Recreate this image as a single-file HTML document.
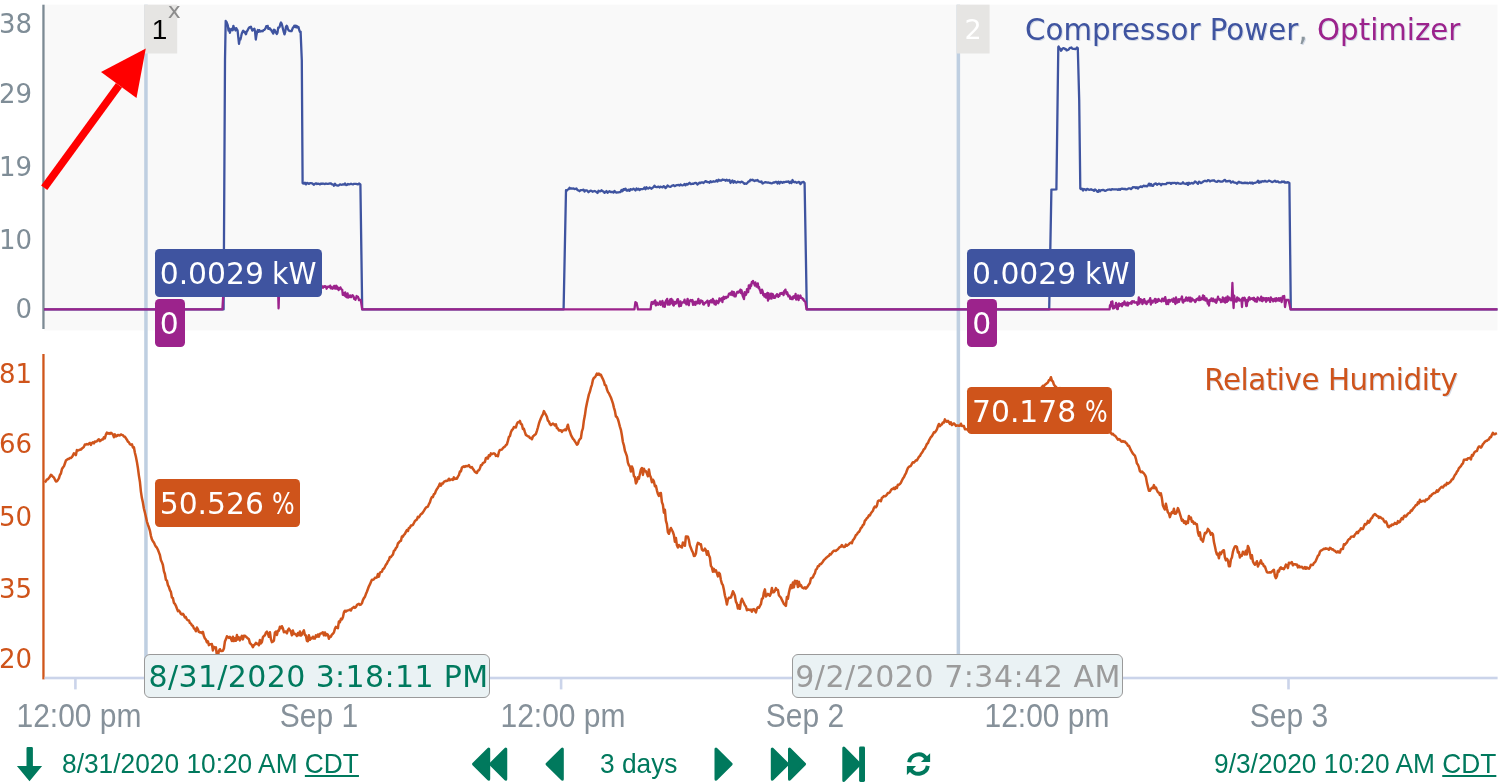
<!DOCTYPE html>
<html lang="en">
<head>
<meta charset="utf-8">
<title>Chart</title>
<style>
html,body{margin:0;padding:0;background:#fff;}
body{width:1505px;height:784px;position:relative;overflow:hidden;font-family:"DejaVu Sans","Liberation Sans",sans-serif;}
.abs{position:absolute;white-space:nowrap;}
svg{position:absolute;left:0;top:0;}
.ylab{position:absolute;left:-20px;width:52px;text-align:right;font-size:26px;line-height:30px;height:30px;white-space:nowrap;}
.yt{color:#7f8d97;}
.yb{color:#cf541b;}
.tip{position:absolute;color:#fff;font-size:29.8px;border-radius:4.5px;height:47.5px;line-height:50.2px;box-sizing:border-box;padding:0 0 0 5.2px;white-space:nowrap;overflow:hidden;}
.sq{display:inline-block;transform-origin:0 50%;}
.ttip{position:absolute;box-sizing:border-box;height:43.5px;line-height:44px;overflow:hidden;border:1px solid #9a9a9a;border-radius:6px;background:#eaf2f4;font-size:30px;white-space:nowrap;padding-left:3.2px;}
.xl{position:absolute;top:699.2px;font-family:"Liberation Sans",sans-serif;font-size:32.4px;line-height:34px;color:#86919a;transform:translateX(-50%) scaleX(.926);white-space:nowrap;}
.leg{position:absolute;font-size:29.3px;line-height:36px;white-space:nowrap;text-shadow:1px 1px 0 #d3d9e6;}
.bt{position:absolute;top:747.5px;font-family:"Liberation Sans",sans-serif;font-size:27.3px;line-height:32px;color:#00795d;white-space:nowrap;transform:scaleX(.964);transform-origin:0 50%;}
.bt u{text-decoration-thickness:1.5px;text-underline-offset:2px;}
</style>
</head>
<body>
<svg width="1505" height="784" viewBox="0 0 1505 784">
  <rect x="44" y="4.7" width="1453.5" height="325.8" fill="#f9f9f9"/>
  <rect x="42.3" y="4.7" width="2.3" height="324.3" fill="#7c8a94"/>
  <rect x="42.3" y="354" width="2.3" height="325.4" fill="#d0561b"/>
  <rect x="44.6" y="676.7" width="1453" height="2.6" fill="#cbd4ea"/>
  <g fill="#cbd4ea">
    <rect x="74.1" y="678" width="2.6" height="11.4"/>
    <rect x="317.2" y="678" width="2.6" height="11.4"/>
    <rect x="559.8" y="678" width="2.6" height="11.4"/>
    <rect x="802.7" y="678" width="2.6" height="11.4"/>
    <rect x="1045.7" y="678" width="2.6" height="11.4"/>
    <rect x="1287.2" y="678" width="2.6" height="11.4"/>
  </g>
  <rect x="144.2" y="4.7" width="3.5" height="655" fill="#bfcfe1"/>
  <rect x="956.6" y="4.7" width="3.5" height="655" fill="#bfcfe1"/>
  <rect x="144.2" y="4.7" width="33" height="48.8" fill="#e6e5e3"/>
  <rect x="956.6" y="4.7" width="33" height="48.8" fill="#e6e5e3"/>
  <path d="M44.0 309.4 L223.6 309.4 L225.0 60.0 L225.7 20.8 L225.7 22.7 L226.4 21.8 L227.1 23.5 L227.8 25.3 L228.5 30.5 L229.2 28.6 L229.9 32.9 L230.6 29.3 L231.3 30.1 L232.0 28.8 L232.7 30.3 L233.4 25.8 L234.1 28.2 L234.8 28.4 L235.5 30.5 L236.2 28.1 L236.9 29.5 L237.6 30.5 L238.3 37.4 L239.0 43.9 L239.7 39.3 L240.4 39.4 L241.1 36.6 L241.8 33.5 L242.5 31.9 L243.2 30.7 L243.9 32.1 L244.6 31.8 L245.3 33.3 L246.0 34.2 L246.7 31.6 L247.4 30.8 L248.1 29.3 L248.8 28.0 L249.5 27.1 L250.2 27.6 L250.9 26.6 L251.6 28.6 L252.3 30.6 L253.0 29.9 L253.7 29.1 L254.4 28.6 L255.1 32.1 L255.8 39.5 L256.5 34.9 L257.2 31.5 L257.9 30.0 L258.6 31.9 L259.3 30.1 L260.0 31.3 L260.7 31.5 L261.4 31.2 L262.1 30.9 L262.8 31.2 L263.5 30.2 L264.2 30.0 L264.9 29.2 L265.6 28.1 L266.3 26.2 L267.0 27.3 L267.7 25.9 L268.4 28.9 L269.1 28.6 L269.8 28.2 L270.5 29.7 L271.2 29.6 L271.9 31.5 L272.6 32.4 L273.3 33.6 L274.0 29.7 L274.7 30.0 L275.4 31.6 L276.1 32.8 L276.8 34.0 L277.5 32.7 L278.2 27.7 L278.9 27.6 L279.6 26.9 L280.3 24.0 L281.0 22.5 L281.7 23.8 L282.4 26.4 L283.1 29.4 L283.8 32.2 L284.5 34.4 L285.2 32.1 L285.9 27.0 L286.6 25.7 L287.3 26.7 L288.0 29.2 L288.7 30.5 L289.4 30.6 L290.1 31.2 L290.8 31.1 L291.5 31.2 L292.2 29.5 L292.9 27.8 L293.6 27.0 L294.3 25.7 L295.0 27.1 L295.7 25.6 L296.4 27.4 L297.1 26.2 L297.8 27.6 L298.5 27.0 L299.2 29.9 L299.9 32.0 L300.6 31.6 L301.8 60.0 L302.6 183.0 L303.0 183.4 L304.0 183.6 L305.0 182.7 L306.0 184.4 L307.0 182.9 L308.0 183.3 L309.0 183.9 L310.0 183.1 L311.0 183.2 L312.0 183.3 L313.0 184.0 L314.0 184.8 L315.0 183.8 L316.0 183.3 L317.0 184.0 L318.0 183.6 L319.0 183.8 L320.0 184.4 L321.0 183.5 L322.0 183.9 L323.0 183.5 L324.0 183.8 L325.0 184.0 L326.0 183.5 L327.0 183.8 L328.0 183.9 L329.0 183.7 L330.0 183.5 L331.0 183.5 L332.0 184.3 L333.0 184.4 L334.0 185.7 L335.0 183.8 L336.0 185.1 L337.0 185.4 L338.0 185.7 L339.0 185.2 L340.0 184.4 L341.0 184.7 L342.0 184.8 L343.0 184.3 L344.0 184.7 L345.0 183.4 L346.0 185.0 L347.0 184.8 L348.0 184.0 L349.0 184.4 L350.0 184.1 L351.0 183.7 L352.0 184.1 L353.0 184.4 L354.0 183.8 L355.0 183.8 L356.0 183.9 L357.0 184.1 L358.0 184.4 L359.0 183.5 L360.4 184.5 L362.2 309.4 L563.6 309.4 L566.0 190.2 L566.5 190.9 L567.5 189.7 L568.5 189.3 L569.5 187.8 L570.5 188.7 L571.5 188.4 L572.5 188.6 L573.5 188.4 L574.5 189.0 L575.5 188.9 L576.5 188.5 L577.5 190.2 L578.5 190.4 L579.5 191.2 L580.5 190.2 L581.5 190.1 L582.5 190.2 L583.5 189.6 L584.5 191.6 L585.5 190.3 L586.5 190.3 L587.5 191.0 L588.5 192.2 L589.5 191.4 L590.5 190.6 L591.5 190.8 L592.5 191.8 L593.5 191.3 L594.5 191.0 L595.5 191.4 L596.5 192.1 L597.5 193.0 L598.5 190.8 L599.5 191.3 L600.5 191.3 L601.5 190.2 L602.5 191.3 L603.5 191.3 L604.5 192.8 L605.5 192.0 L606.5 191.0 L607.5 192.7 L608.5 192.0 L609.5 191.1 L610.5 192.0 L611.5 192.0 L612.5 191.9 L613.5 192.6 L614.5 190.9 L615.5 192.1 L616.5 192.7 L617.5 192.4 L618.5 192.3 L619.5 192.1 L620.5 192.1 L621.5 190.0 L622.5 191.2 L623.5 189.1 L624.5 189.7 L625.5 188.6 L626.5 190.6 L627.5 190.7 L628.5 189.6 L629.5 190.9 L630.5 189.1 L631.5 189.6 L632.5 189.5 L633.5 188.6 L634.5 189.5 L635.5 190.5 L636.5 188.4 L637.5 189.6 L638.5 188.8 L639.5 190.1 L640.5 189.1 L641.5 189.2 L642.5 189.1 L643.5 188.7 L644.5 187.5 L645.5 189.3 L646.5 187.3 L647.5 188.4 L648.5 188.5 L649.5 187.5 L650.5 188.1 L651.5 188.7 L652.5 187.8 L653.5 187.1 L654.5 185.6 L655.5 186.9 L656.5 187.1 L657.5 187.0 L658.5 186.6 L659.5 187.5 L660.5 186.7 L661.5 187.0 L662.5 187.4 L663.5 186.2 L664.5 186.5 L665.5 188.1 L666.5 187.1 L667.5 185.5 L668.5 186.2 L669.5 186.6 L670.5 186.9 L671.5 186.1 L672.5 185.5 L673.5 185.2 L674.5 186.1 L675.5 185.8 L676.5 185.1 L677.5 185.2 L678.5 184.9 L679.5 185.6 L680.5 184.5 L681.5 185.2 L682.5 185.4 L683.5 185.0 L684.5 184.0 L685.5 185.4 L686.5 183.9 L687.5 184.6 L688.5 183.6 L689.5 182.8 L690.5 184.1 L691.5 184.0 L692.5 183.7 L693.5 183.8 L694.5 183.1 L695.5 182.9 L696.5 183.2 L697.5 184.5 L698.5 183.6 L699.5 182.6 L700.5 183.2 L701.5 182.4 L702.5 182.3 L703.5 183.1 L704.5 182.0 L705.5 181.1 L706.5 181.6 L707.5 182.1 L708.5 182.1 L709.5 182.7 L710.5 181.2 L711.5 182.1 L712.5 181.7 L713.5 181.2 L714.5 181.7 L715.5 181.4 L716.5 180.3 L717.5 181.5 L718.5 179.7 L719.5 180.5 L720.5 180.3 L721.5 180.5 L722.5 179.5 L723.5 179.8 L724.5 179.8 L725.5 180.8 L726.5 179.7 L727.5 180.6 L728.5 180.5 L729.5 180.0 L730.5 183.0 L731.5 181.3 L732.5 180.5 L733.5 182.7 L734.5 181.1 L735.5 182.2 L736.5 182.7 L737.5 181.7 L738.5 182.0 L739.5 182.1 L740.5 182.5 L741.5 181.6 L742.5 182.0 L743.5 182.9 L744.5 183.9 L745.5 183.5 L746.5 183.8 L747.5 182.7 L748.5 181.5 L749.5 181.4 L750.5 179.7 L751.5 180.1 L752.5 179.7 L753.5 180.5 L754.5 181.0 L755.5 180.3 L756.5 180.5 L757.5 180.0 L758.5 181.2 L759.5 181.7 L760.5 182.0 L761.5 181.4 L762.5 183.5 L763.5 183.1 L764.5 182.4 L765.5 182.2 L766.5 182.3 L767.5 182.6 L768.5 182.5 L769.5 182.8 L770.5 183.0 L771.5 183.3 L772.5 183.2 L773.5 182.3 L774.5 182.6 L775.5 182.0 L776.5 181.8 L777.5 183.5 L778.5 181.8 L779.5 183.5 L780.5 181.9 L781.5 182.2 L782.5 182.8 L783.5 182.0 L784.5 182.3 L785.5 181.8 L786.5 181.6 L787.5 181.8 L788.5 181.4 L789.5 183.0 L790.5 181.7 L791.5 183.0 L792.5 180.0 L793.5 181.9 L794.5 182.3 L795.5 181.8 L796.5 182.8 L797.5 182.5 L798.5 181.9 L799.5 182.4 L800.5 184.1 L801.5 182.3 L802.5 182.4 L803.5 181.9 L804.6 183.0 L806.8 309.4 L1049.2 309.4 L1051.4 189.6 L1056.4 189.4 L1057.6 100.0 L1058.3 47.0 L1058.6 46.5 L1059.4 48.0 L1060.2 48.8 L1061.0 50.8 L1061.8 49.7 L1062.6 48.5 L1063.4 48.2 L1064.2 48.4 L1065.0 49.0 L1065.8 49.0 L1066.6 50.4 L1067.4 50.2 L1068.2 49.8 L1069.0 49.1 L1069.8 47.9 L1070.6 47.9 L1071.4 47.5 L1072.2 48.7 L1073.0 48.8 L1073.8 48.9 L1074.6 48.9 L1075.4 49.2 L1076.2 48.6 L1077.0 47.5 L1077.8 48.2 L1079.2 100.0 L1080.3 188.6 L1081.0 189.1 L1082.0 188.7 L1083.0 190.5 L1084.0 189.0 L1085.0 189.3 L1086.0 190.3 L1087.0 188.9 L1088.0 189.2 L1089.0 189.8 L1090.0 189.6 L1091.0 189.2 L1092.0 189.9 L1093.0 190.0 L1094.0 190.7 L1095.0 189.4 L1096.0 190.1 L1097.0 191.4 L1098.0 191.9 L1099.0 190.0 L1100.0 191.3 L1101.0 190.2 L1102.0 190.2 L1103.0 190.0 L1104.0 190.2 L1105.0 190.9 L1106.0 190.6 L1107.0 190.0 L1108.0 189.7 L1109.0 189.7 L1110.0 189.5 L1111.0 190.0 L1112.0 189.1 L1113.0 189.4 L1114.0 189.3 L1115.0 189.3 L1116.0 189.4 L1117.0 189.3 L1118.0 189.9 L1119.0 189.0 L1120.0 189.9 L1121.0 188.8 L1122.0 188.6 L1123.0 188.9 L1124.0 189.0 L1125.0 188.9 L1126.0 189.4 L1127.0 189.3 L1128.0 188.8 L1129.0 188.3 L1130.0 188.3 L1131.0 189.1 L1132.0 188.2 L1133.0 187.1 L1134.0 187.3 L1135.0 187.2 L1136.0 188.1 L1137.0 187.2 L1138.0 188.5 L1139.0 187.3 L1140.0 186.9 L1141.0 186.4 L1142.0 187.0 L1143.0 186.2 L1144.0 185.6 L1145.0 186.3 L1146.0 185.8 L1147.0 186.4 L1148.0 185.5 L1149.0 183.6 L1150.0 185.6 L1151.0 183.9 L1152.0 185.8 L1153.0 185.8 L1154.0 184.3 L1155.0 183.7 L1156.0 183.5 L1157.0 184.7 L1158.0 184.0 L1159.0 183.7 L1160.0 183.8 L1161.0 185.2 L1162.0 184.0 L1163.0 184.2 L1164.0 184.1 L1165.0 184.2 L1166.0 184.2 L1167.0 183.0 L1168.0 183.2 L1169.0 182.8 L1170.0 182.8 L1171.0 183.9 L1172.0 182.9 L1173.0 183.2 L1174.0 182.8 L1175.0 182.9 L1176.0 183.7 L1177.0 183.0 L1178.0 183.0 L1179.0 183.6 L1180.0 183.6 L1181.0 183.8 L1182.0 183.4 L1183.0 182.3 L1184.0 183.7 L1185.0 183.6 L1186.0 184.0 L1187.0 182.9 L1188.0 184.9 L1189.0 182.7 L1190.0 183.8 L1191.0 183.3 L1192.0 182.9 L1193.0 183.6 L1194.0 182.8 L1195.0 181.5 L1196.0 182.1 L1197.0 182.9 L1198.0 183.9 L1199.0 181.6 L1200.0 182.3 L1201.0 183.1 L1202.0 182.5 L1203.0 181.8 L1204.0 181.1 L1205.0 180.7 L1206.0 181.2 L1207.0 181.3 L1208.0 180.1 L1209.0 180.3 L1210.0 181.4 L1211.0 180.8 L1212.0 180.5 L1213.0 180.6 L1214.0 180.2 L1215.0 181.2 L1216.0 181.6 L1217.0 181.8 L1218.0 181.0 L1219.0 181.0 L1220.0 181.5 L1221.0 181.6 L1222.0 181.5 L1223.0 181.3 L1224.0 180.3 L1225.0 179.9 L1226.0 181.5 L1227.0 181.1 L1228.0 181.3 L1229.0 180.9 L1230.0 180.8 L1231.0 182.6 L1232.0 182.2 L1233.0 181.4 L1234.0 182.5 L1235.0 182.6 L1236.0 182.8 L1237.0 183.8 L1238.0 182.5 L1239.0 181.8 L1240.0 182.7 L1241.0 182.3 L1242.0 183.1 L1243.0 183.0 L1244.0 183.1 L1245.0 182.6 L1246.0 183.2 L1247.0 182.7 L1248.0 183.4 L1249.0 183.0 L1250.0 182.5 L1251.0 183.4 L1252.0 182.5 L1253.0 183.7 L1254.0 182.9 L1255.0 182.8 L1256.0 182.5 L1257.0 182.2 L1258.0 180.7 L1259.0 182.7 L1260.0 181.4 L1261.0 182.3 L1262.0 181.2 L1263.0 181.5 L1264.0 181.4 L1265.0 180.9 L1266.0 181.4 L1267.0 181.7 L1268.0 181.2 L1269.0 180.6 L1270.0 181.0 L1271.0 181.5 L1272.0 182.0 L1273.0 181.8 L1274.0 181.4 L1275.0 180.6 L1276.0 181.9 L1277.0 181.5 L1278.0 181.5 L1279.0 182.3 L1280.0 182.3 L1281.0 182.3 L1282.0 181.5 L1283.0 182.0 L1284.0 181.4 L1285.0 182.7 L1286.0 182.4 L1287.0 182.7 L1288.0 182.1 L1289.4 183.0 L1290.8 309.4 L1497.5 309.4" fill="none" stroke="#3f54a0" stroke-width="2.3" stroke-linejoin="round"/>
  <path d="M44.0 309.4 L222.4 309.4 L223.6 289.0 L224.0 287.6 L224.6 288.9 L225.2 288.2 L225.8 286.8 L226.4 284.7 L227.0 289.1 L227.6 289.4 L228.2 285.9 L228.8 290.0 L229.4 287.3 L230.0 291.2 L230.6 288.6 L231.2 287.3 L231.8 289.4 L232.4 287.9 L233.0 287.9 L233.6 287.8 L234.2 287.5 L234.8 288.5 L235.4 288.7 L236.0 288.1 L236.6 290.0 L237.2 285.8 L237.8 287.0 L238.4 288.6 L239.0 286.0 L239.6 289.5 L240.2 288.4 L240.8 287.2 L241.4 288.2 L242.0 286.7 L242.6 285.5 L243.2 288.5 L243.8 288.6 L244.4 287.5 L245.0 287.3 L245.6 284.6 L246.2 286.3 L246.8 286.7 L247.4 287.6 L248.0 289.1 L248.6 286.6 L249.2 286.3 L249.8 288.5 L250.4 287.1 L251.0 285.4 L251.6 288.8 L252.2 286.1 L252.8 286.5 L253.4 285.8 L254.0 287.6 L254.6 288.5 L255.2 286.6 L255.8 287.6 L256.4 286.5 L257.0 290.1 L257.6 289.0 L258.2 286.3 L258.8 287.7 L259.4 288.2 L260.0 287.6 L260.6 286.0 L261.2 286.8 L261.8 287.9 L262.4 287.6 L263.0 285.9 L263.6 287.6 L264.2 285.7 L264.8 284.2 L265.4 287.2 L266.0 288.2 L266.6 287.6 L267.2 288.9 L267.8 289.3 L268.4 287.5 L269.0 286.2 L269.6 286.9 L270.2 285.1 L270.8 287.0 L271.4 286.9 L272.0 287.2 L272.6 288.4 L273.2 284.2 L273.8 288.0 L274.4 286.3 L275.0 288.0 L275.6 287.2 L276.2 285.7 L276.8 288.1 L277.4 286.0 L278.0 287.7 L278.6 308.4 L279.2 286.4 L279.8 287.1 L280.4 289.5 L281.0 287.9 L281.6 287.0 L282.2 289.2 L282.8 287.0 L283.4 286.6 L284.0 285.7 L284.6 287.2 L285.2 287.2 L285.8 286.1 L286.4 284.5 L287.0 286.8 L287.6 287.1 L288.2 286.5 L288.8 285.8 L289.4 285.6 L290.0 286.4 L290.6 288.8 L291.2 287.2 L291.8 284.9 L292.4 287.8 L293.0 286.4 L293.6 290.0 L294.2 286.6 L294.8 286.9 L295.4 287.3 L296.0 287.4 L296.6 287.1 L297.2 287.1 L297.8 286.7 L298.4 286.3 L299.0 286.5 L299.6 285.5 L300.2 286.3 L300.8 286.1 L301.4 286.4 L302.0 286.4 L302.6 286.8 L303.2 287.6 L303.8 286.6 L304.4 287.1 L305.0 287.4 L305.6 286.6 L306.2 286.8 L306.8 287.5 L307.4 284.8 L308.0 287.9 L308.6 286.4 L309.2 282.2 L309.8 287.7 L310.4 285.4 L311.0 288.2 L311.6 285.7 L312.2 286.7 L312.8 287.8 L313.4 285.9 L314.0 285.6 L314.6 286.7 L315.2 288.6 L315.8 288.2 L316.4 288.6 L317.0 287.3 L317.6 287.4 L318.2 288.1 L318.8 287.4 L319.4 285.6 L320.0 287.6 L320.6 285.9 L321.2 285.5 L321.8 286.7 L322.4 286.4 L323.0 287.8 L323.6 287.1 L324.2 286.2 L324.8 286.8 L325.4 286.2 L326.0 286.6 L326.6 288.7 L327.2 287.7 L327.8 286.7 L328.4 286.9 L329.0 286.6 L329.6 287.2 L330.2 285.6 L330.8 288.3 L331.4 287.1 L332.0 288.4 L332.6 288.7 L333.2 287.9 L333.8 286.2 L334.4 285.9 L335.0 288.6 L335.6 288.6 L336.2 285.7 L336.8 286.3 L337.4 288.9 L338.0 287.6 L338.6 290.1 L339.2 288.2 L339.8 288.7 L340.4 287.4 L341.0 288.8 L341.6 289.6 L342.2 289.6 L342.8 294.8 L343.4 294.6 L344.0 293.2 L344.6 295.5 L345.2 292.5 L345.8 296.7 L346.4 295.5 L347.0 297.4 L347.6 293.3 L348.2 297.6 L348.8 297.2 L349.4 296.7 L350.0 295.4 L350.6 297.1 L351.2 297.1 L351.8 296.1 L352.4 295.2 L353.0 295.7 L353.6 296.6 L354.2 298.9 L354.8 299.1 L355.4 299.8 L356.0 298.4 L356.6 296.0 L357.2 297.0 L357.8 296.6 L358.4 297.9 L359.0 300.2 L360.8 300.0 L362.2 309.4 L634.4 309.4 L635.4 302.2 L636.6 303.0 L638.0 309.4 L650.6 309.4 L651.0 306.0 L651.6 302.2 L652.2 303.2 L652.8 303.9 L653.4 301.8 L654.0 303.3 L654.6 303.4 L655.2 300.3 L655.8 305.4 L656.4 304.7 L657.0 302.5 L657.6 303.4 L658.2 304.7 L658.8 303.4 L659.4 303.5 L660.0 301.4 L660.6 304.9 L661.2 304.0 L661.8 304.2 L662.4 300.9 L663.0 306.5 L663.6 303.7 L664.2 302.7 L664.8 306.9 L665.4 303.1 L666.0 300.5 L666.6 302.3 L667.2 298.8 L667.8 304.7 L668.4 302.0 L669.0 301.3 L669.6 304.5 L670.2 299.5 L670.8 303.5 L671.4 298.8 L672.0 301.3 L672.6 300.3 L673.2 305.1 L673.8 305.6 L674.4 301.8 L675.0 303.9 L675.6 302.1 L676.2 303.4 L676.8 301.0 L677.4 299.3 L678.0 299.1 L678.6 303.0 L679.2 306.4 L679.8 302.8 L680.4 301.4 L681.0 305.8 L681.6 302.7 L682.2 302.5 L682.8 302.7 L683.4 302.0 L684.0 301.7 L684.6 299.7 L685.2 303.1 L685.8 302.1 L686.4 304.4 L687.0 301.6 L687.6 298.8 L688.2 302.0 L688.8 305.2 L689.4 301.5 L690.0 300.6 L690.6 300.0 L691.2 300.3 L691.8 301.6 L692.4 300.0 L693.0 304.8 L693.6 301.6 L694.2 302.3 L694.8 304.7 L695.4 304.8 L696.0 301.7 L696.6 302.7 L697.2 303.4 L697.8 301.7 L698.4 298.8 L699.0 303.2 L699.6 303.6 L700.2 302.7 L700.8 300.3 L701.4 301.6 L702.0 300.9 L702.6 301.4 L703.2 304.2 L703.8 304.6 L704.4 303.1 L705.0 302.8 L705.6 303.1 L706.2 301.8 L706.8 301.7 L707.4 300.6 L708.0 301.7 L708.6 305.8 L709.2 303.3 L709.8 301.1 L710.4 300.9 L711.0 300.1 L711.6 302.4 L712.2 302.4 L712.8 299.0 L713.4 302.5 L714.0 300.6 L714.6 304.2 L715.2 301.9 L715.8 304.7 L716.4 300.7 L717.0 301.0 L717.6 302.1 L718.2 303.3 L718.8 302.1 L719.4 298.5 L720.0 300.7 L720.6 300.0 L721.2 298.9 L721.8 298.1 L722.4 302.1 L723.0 297.9 L723.6 296.7 L724.2 299.0 L724.8 297.7 L725.4 296.9 L726.0 298.1 L726.6 297.1 L727.2 296.5 L727.8 297.2 L728.4 295.6 L729.0 293.6 L729.6 293.6 L730.2 293.1 L730.8 294.7 L731.4 292.6 L732.0 291.5 L732.6 295.2 L733.2 292.9 L733.8 292.0 L734.4 296.4 L735.0 294.7 L735.6 296.4 L736.2 294.1 L736.8 292.5 L737.4 291.8 L738.0 292.7 L738.6 292.6 L739.2 291.2 L739.8 291.7 L740.4 289.6 L741.0 293.0 L741.6 290.4 L742.2 293.9 L742.8 296.1 L743.4 297.4 L744.0 299.1 L744.6 292.1 L745.2 295.3 L745.8 295.0 L746.4 293.6 L747.0 289.1 L747.6 290.4 L748.2 292.1 L748.8 285.3 L749.4 288.0 L750.0 288.4 L750.6 284.4 L751.2 285.9 L751.8 282.1 L752.4 281.8 L753.0 281.0 L753.6 283.3 L754.2 283.2 L754.8 285.5 L755.4 282.5 L756.0 284.4 L756.6 286.7 L757.2 286.4 L757.8 283.5 L758.4 287.9 L759.0 286.9 L759.6 289.5 L760.2 290.4 L760.8 293.1 L761.4 292.2 L762.0 289.7 L762.6 290.9 L763.2 295.1 L763.8 293.7 L764.4 296.6 L765.0 295.5 L765.6 294.1 L766.2 297.7 L766.8 294.7 L767.4 292.9 L768.0 300.7 L768.6 293.5 L769.2 298.0 L769.8 298.5 L770.4 297.0 L771.0 293.7 L771.6 298.5 L772.2 294.0 L772.8 294.1 L773.4 295.8 L774.0 297.8 L774.6 296.9 L775.2 297.7 L775.8 295.4 L776.4 295.9 L777.0 294.1 L777.6 295.5 L778.2 296.9 L778.8 294.9 L779.4 295.9 L780.0 293.5 L780.6 293.1 L781.2 293.8 L781.8 292.9 L782.4 293.9 L783.0 292.7 L783.6 295.1 L784.2 291.2 L784.8 290.7 L785.4 289.6 L786.0 292.2 L786.6 294.1 L787.2 292.3 L787.8 294.3 L788.4 296.4 L789.0 295.6 L789.6 295.6 L790.2 298.8 L790.8 297.2 L791.4 297.8 L792.0 299.2 L792.6 299.2 L793.2 296.6 L793.8 296.3 L794.4 297.8 L795.0 297.1 L795.6 293.9 L796.2 299.7 L796.8 297.5 L797.4 298.8 L798.0 295.4 L798.6 300.0 L799.2 296.7 L799.8 297.7 L800.4 295.5 L801.0 297.9 L801.6 297.9 L802.2 298.1 L802.8 299.4 L803.4 298.9 L804.0 300.6 L805.4 302.0 L806.6 309.4 L1109.6 309.4 L1110.0 305.1 L1110.6 306.6 L1111.2 302.0 L1111.8 302.8 L1112.4 301.4 L1113.0 308.5 L1113.6 307.4 L1114.2 308.1 L1114.8 306.0 L1115.4 306.2 L1116.0 302.9 L1116.6 307.5 L1117.2 309.0 L1117.8 309.0 L1118.4 304.0 L1119.0 303.4 L1119.6 305.8 L1120.2 304.1 L1120.8 304.3 L1121.4 304.0 L1122.0 306.3 L1122.6 303.2 L1123.2 303.8 L1123.8 304.6 L1124.4 301.4 L1125.0 303.1 L1125.6 304.6 L1126.2 305.4 L1126.8 303.8 L1127.4 302.5 L1128.0 305.6 L1128.6 303.0 L1129.2 303.3 L1129.8 303.5 L1130.4 303.0 L1131.0 302.2 L1131.6 303.7 L1132.2 301.1 L1132.8 302.0 L1133.4 302.1 L1134.0 301.2 L1134.6 302.7 L1135.2 302.7 L1135.8 302.5 L1136.4 302.1 L1137.0 303.1 L1137.6 304.8 L1138.2 303.7 L1138.8 297.4 L1139.4 303.7 L1140.0 299.2 L1140.6 299.2 L1141.2 302.0 L1141.8 299.8 L1142.4 304.1 L1143.0 302.7 L1143.6 300.4 L1144.2 299.1 L1144.8 302.0 L1145.4 303.2 L1146.0 301.5 L1146.6 304.1 L1147.2 302.0 L1147.8 302.4 L1148.4 300.6 L1149.0 301.6 L1149.6 300.6 L1150.2 298.1 L1150.8 304.5 L1151.4 300.6 L1152.0 300.9 L1152.6 302.6 L1153.2 300.7 L1153.8 300.8 L1154.4 301.1 L1155.0 298.8 L1155.6 302.8 L1156.2 301.0 L1156.8 299.5 L1157.4 301.8 L1158.0 301.0 L1158.6 299.0 L1159.2 300.7 L1159.8 300.4 L1160.4 300.9 L1161.0 301.0 L1161.6 301.5 L1162.2 298.6 L1162.8 300.4 L1163.4 299.0 L1164.0 301.1 L1164.6 298.4 L1165.2 297.1 L1165.8 299.7 L1166.4 304.1 L1167.0 302.0 L1167.6 300.4 L1168.2 304.0 L1168.8 300.0 L1169.4 300.0 L1170.0 301.6 L1170.6 300.7 L1171.2 300.2 L1171.8 299.5 L1172.4 300.1 L1173.0 301.8 L1173.6 298.3 L1174.2 299.2 L1174.8 302.2 L1175.4 304.0 L1176.0 297.4 L1176.6 300.8 L1177.2 302.6 L1177.8 299.8 L1178.4 299.3 L1179.0 302.0 L1179.6 299.3 L1180.2 299.1 L1180.8 299.3 L1181.4 298.0 L1182.0 296.5 L1182.6 301.8 L1183.2 302.6 L1183.8 300.4 L1184.4 299.8 L1185.0 300.8 L1185.6 299.8 L1186.2 297.4 L1186.8 298.2 L1187.4 300.7 L1188.0 299.4 L1188.6 297.7 L1189.2 297.9 L1189.8 301.4 L1190.4 297.7 L1191.0 301.7 L1191.6 300.7 L1192.2 298.5 L1192.8 299.5 L1193.4 300.2 L1194.0 300.5 L1194.6 300.3 L1195.2 302.1 L1195.8 301.3 L1196.4 299.2 L1197.0 299.7 L1197.6 298.5 L1198.2 299.1 L1198.8 300.0 L1199.4 296.4 L1200.0 300.0 L1200.6 299.8 L1201.2 299.5 L1201.8 297.9 L1202.4 299.0 L1203.0 295.5 L1203.6 299.7 L1204.2 296.2 L1204.8 299.3 L1205.4 300.5 L1206.0 298.5 L1206.6 298.4 L1207.2 300.9 L1207.8 303.7 L1208.4 300.7 L1209.0 305.5 L1209.6 299.8 L1210.2 300.9 L1210.8 300.6 L1211.4 298.3 L1212.0 300.3 L1212.6 301.1 L1213.2 298.6 L1213.8 300.3 L1214.4 301.6 L1215.0 301.2 L1215.6 299.6 L1216.2 302.8 L1216.8 301.2 L1217.4 299.3 L1218.0 296.7 L1218.6 299.2 L1219.2 299.8 L1219.8 299.1 L1220.4 299.7 L1221.0 302.1 L1221.6 300.8 L1222.2 301.6 L1222.8 297.5 L1223.4 299.6 L1224.0 301.6 L1224.6 298.3 L1225.2 302.5 L1225.8 297.6 L1226.4 298.6 L1227.0 301.8 L1227.6 296.3 L1228.2 300.7 L1228.8 297.6 L1229.4 297.7 L1230.0 299.5 L1230.6 299.4 L1231.2 300.3 L1231.8 299.2 L1232.4 283.0 L1233.0 297.7 L1233.6 308.0 L1234.2 295.7 L1234.8 300.4 L1235.4 299.8 L1236.0 301.5 L1236.6 301.6 L1237.2 297.3 L1237.8 300.4 L1238.4 298.3 L1239.0 298.7 L1239.6 300.6 L1240.2 300.2 L1240.8 300.2 L1241.4 299.4 L1242.0 307.0 L1242.6 297.8 L1243.2 298.5 L1243.8 300.4 L1244.4 297.7 L1245.0 298.5 L1245.6 300.6 L1246.2 306.0 L1246.8 306.0 L1247.4 299.9 L1248.0 301.4 L1248.6 298.0 L1249.2 297.2 L1249.8 299.7 L1250.4 298.2 L1251.0 298.9 L1251.6 298.6 L1252.2 298.1 L1252.8 299.4 L1253.4 299.8 L1254.0 297.8 L1254.6 300.9 L1255.2 301.4 L1255.8 299.1 L1256.4 299.7 L1257.0 301.7 L1257.6 297.5 L1258.2 297.8 L1258.8 298.8 L1259.4 299.3 L1260.0 300.3 L1260.6 299.7 L1261.2 296.6 L1261.8 301.0 L1262.4 301.2 L1263.0 297.9 L1263.6 300.2 L1264.2 298.4 L1264.8 298.7 L1265.4 298.3 L1266.0 301.7 L1266.6 298.1 L1267.2 299.3 L1267.8 300.2 L1268.4 298.1 L1269.0 299.0 L1269.6 299.2 L1270.2 301.9 L1270.8 297.4 L1271.4 299.4 L1272.0 299.7 L1272.6 299.0 L1273.2 301.4 L1273.8 299.4 L1274.4 298.7 L1275.0 300.6 L1275.6 301.3 L1276.2 298.1 L1276.8 300.7 L1277.4 300.5 L1278.0 299.4 L1278.6 298.2 L1279.2 300.8 L1279.8 300.4 L1280.4 298.0 L1281.0 298.7 L1281.6 302.1 L1282.2 298.5 L1282.8 296.4 L1284.2 296.0 L1285.0 307.0 L1286.2 300.0 L1288.6 300.0 L1290.6 309.4 L1497.5 309.4" fill="none" stroke="#9c238c" stroke-width="2.3" stroke-linejoin="round"/>
  <path d="M44.9 482.4 L45.9 481.1 L46.9 479.4 L47.9 479.2 L48.9 477.9 L49.9 476.7 L50.9 474.8 L51.9 475.6 L52.9 476.8 L53.9 477.5 L54.9 479.5 L55.9 481.4 L56.9 481.2 L57.9 479.9 L58.9 478.4 L59.9 475.0 L60.9 473.5 L61.9 469.2 L62.9 467.5 L63.9 466.3 L64.9 463.5 L65.9 460.6 L66.9 459.8 L67.9 459.1 L68.9 458.9 L69.9 457.9 L70.9 457.9 L71.9 457.1 L72.9 455.5 L73.9 453.3 L74.9 454.0 L75.9 455.1 L76.9 450.1 L77.9 450.6 L78.9 450.2 L79.9 449.7 L80.9 449.5 L81.9 448.5 L82.9 447.8 L83.9 446.9 L84.9 444.4 L85.9 444.6 L86.9 444.0 L87.9 444.5 L88.9 443.6 L89.9 442.9 L90.9 444.9 L91.9 443.0 L92.9 442.4 L93.9 443.3 L94.9 441.4 L95.9 441.7 L96.9 441.3 L97.9 440.1 L98.9 439.3 L99.9 441.1 L100.9 440.4 L101.9 439.5 L102.9 439.6 L103.9 437.2 L104.9 438.3 L105.9 434.5 L106.9 432.6 L107.9 433.6 L108.9 433.0 L109.9 433.9 L110.9 432.8 L111.9 433.6 L112.9 434.4 L113.9 437.2 L114.9 434.4 L115.9 436.5 L116.9 436.0 L117.9 435.0 L118.9 435.3 L119.9 435.4 L120.9 434.4 L121.9 434.9 L122.9 435.2 L123.9 436.5 L124.9 436.8 L125.9 438.2 L126.9 439.7 L127.9 441.6 L128.9 442.2 L129.9 444.2 L130.9 444.8 L131.9 444.2 L132.9 447.5 L133.9 447.3 L134.9 452.7 L135.9 456.7 L136.9 461.9 L137.9 468.0 L138.9 475.6 L139.9 481.7 L140.9 491.6 L141.9 498.1 L142.9 502.6 L143.9 508.5 L144.9 512.5 L145.9 516.8 L146.9 521.6 L147.9 524.7 L148.9 527.3 L149.9 530.6 L150.9 535.8 L151.9 539.4 L152.9 541.2 L153.9 542.6 L154.9 544.8 L155.9 546.6 L156.9 547.7 L157.9 549.8 L158.9 552.4 L159.9 555.0 L160.9 559.9 L161.9 562.2 L162.9 565.0 L163.9 571.1 L164.9 574.0 L165.9 579.7 L166.9 580.5 L167.9 585.1 L168.9 586.9 L169.9 590.1 L170.9 591.9 L171.9 597.5 L172.9 598.1 L173.9 602.8 L174.9 603.9 L175.9 605.8 L176.9 608.5 L177.9 611.1 L178.9 610.5 L179.9 611.9 L180.9 613.9 L181.9 614.5 L182.9 613.7 L183.9 615.2 L184.9 617.5 L185.9 617.1 L186.9 619.6 L187.9 620.3 L188.9 620.4 L189.9 623.0 L190.9 623.5 L191.9 625.4 L192.9 625.9 L193.9 628.4 L194.9 629.1 L195.9 631.3 L196.9 627.5 L197.9 629.4 L198.9 632.0 L199.9 632.5 L200.9 632.2 L201.9 633.2 L202.9 631.9 L203.9 636.1 L204.9 638.4 L205.9 639.5 L206.9 642.3 L207.9 641.4 L208.9 645.1 L209.9 644.2 L210.9 644.2 L211.9 644.1 L212.9 650.5 L213.9 646.9 L214.9 647.9 L215.9 647.4 L216.9 655.3 L217.9 655.7 L218.9 650.9 L219.9 649.2 L220.9 651.0 L221.9 650.9 L222.9 650.8 L223.9 648.5 L224.9 641.6 L225.9 639.3 L226.9 636.3 L227.9 637.0 L228.9 637.9 L229.9 636.8 L230.9 638.5 L231.9 641.0 L232.9 636.8 L233.9 641.1 L234.9 638.2 L235.9 640.8 L236.9 635.1 L237.9 639.4 L238.9 637.3 L239.9 640.4 L240.9 637.8 L241.9 635.8 L242.9 639.4 L243.9 635.8 L244.9 635.7 L245.9 636.6 L246.9 637.6 L247.9 638.4 L248.9 639.3 L249.9 643.1 L250.9 644.0 L251.9 645.1 L252.9 647.2 L253.9 645.1 L254.9 644.5 L255.9 642.8 L256.9 644.0 L257.9 643.8 L258.9 645.2 L259.9 640.1 L260.9 643.4 L261.9 642.1 L262.9 637.3 L263.9 635.9 L264.9 635.4 L265.9 632.6 L266.9 631.7 L267.9 633.7 L268.9 636.8 L269.9 632.3 L270.9 639.2 L271.9 642.1 L272.9 641.7 L273.9 640.7 L274.9 632.6 L275.9 631.5 L276.9 635.0 L277.9 630.8 L278.9 630.7 L279.9 626.7 L280.9 628.3 L281.9 626.2 L282.9 628.2 L283.9 632.2 L284.9 631.8 L285.9 631.5 L286.9 633.3 L287.9 630.2 L288.9 628.6 L289.9 630.3 L290.9 631.6 L291.9 635.3 L292.9 630.5 L293.9 634.0 L294.9 633.8 L295.9 634.5 L296.9 635.9 L297.9 633.1 L298.9 635.3 L299.9 631.4 L300.9 635.6 L301.9 634.6 L302.9 632.2 L303.9 630.4 L304.9 635.1 L305.9 635.5 L306.9 640.8 L307.9 641.3 L308.9 635.3 L309.9 639.8 L310.9 638.1 L311.9 638.5 L312.9 636.7 L313.9 638.6 L314.9 638.6 L315.9 635.4 L316.9 636.8 L317.9 634.5 L318.9 636.6 L319.9 633.9 L320.9 633.5 L321.9 633.1 L322.9 632.3 L323.9 635.3 L324.9 632.5 L325.9 635.4 L326.9 634.1 L327.9 634.8 L328.9 638.7 L329.9 636.5 L330.9 636.8 L331.9 634.6 L332.9 633.7 L333.9 632.5 L334.9 628.9 L335.9 626.9 L336.9 627.6 L337.9 628.1 L338.9 621.4 L339.9 622.2 L340.9 618.8 L341.9 619.4 L342.9 617.3 L343.9 612.4 L344.9 610.7 L345.9 611.7 L346.9 610.7 L347.9 610.4 L348.9 610.1 L349.9 609.6 L350.9 610.4 L351.9 608.4 L352.9 607.7 L353.9 606.9 L354.9 607.9 L355.9 607.0 L356.9 605.1 L357.9 604.3 L358.9 603.8 L359.9 604.9 L360.9 604.5 L361.9 603.3 L362.9 600.1 L363.9 598.1 L364.9 596.9 L365.9 594.1 L366.9 591.7 L367.9 589.0 L368.9 586.3 L369.9 584.4 L370.9 582.0 L371.9 579.7 L372.9 579.7 L373.9 579.4 L374.9 577.8 L375.9 577.7 L376.9 577.5 L377.9 574.1 L378.9 576.7 L379.9 572.8 L380.9 572.1 L381.9 571.7 L382.9 569.1 L383.9 568.6 L384.9 566.8 L385.9 564.7 L386.9 563.6 L387.9 561.2 L388.9 560.0 L389.9 557.0 L390.9 557.1 L391.9 555.6 L392.9 554.6 L393.9 550.9 L394.9 550.3 L395.9 547.9 L396.9 547.1 L397.9 543.5 L398.9 542.5 L399.9 541.2 L400.9 540.9 L401.9 536.5 L402.9 536.8 L403.9 534.7 L404.9 533.9 L405.9 531.9 L406.9 530.0 L407.9 531.0 L408.9 527.9 L409.9 527.7 L410.9 525.5 L411.9 525.4 L412.9 524.9 L413.9 523.0 L414.9 521.1 L415.9 520.3 L416.9 519.5 L417.9 516.8 L418.9 517.2 L419.9 515.7 L420.9 514.1 L421.9 513.6 L422.9 512.4 L423.9 510.8 L424.9 509.2 L425.9 507.6 L426.9 507.0 L427.9 506.6 L428.9 504.1 L429.9 502.4 L430.9 499.0 L431.9 497.0 L432.9 497.0 L433.9 494.1 L434.9 493.7 L435.9 490.8 L436.9 489.1 L437.9 487.7 L438.9 485.8 L439.9 483.6 L440.9 485.7 L441.9 483.6 L442.9 483.5 L443.9 481.9 L444.9 481.3 L445.9 480.8 L446.9 480.9 L447.9 480.5 L448.9 478.7 L449.9 480.2 L450.9 479.7 L451.9 479.3 L452.9 479.9 L453.9 477.3 L454.9 479.0 L455.9 478.5 L456.9 478.7 L457.9 476.6 L458.9 475.1 L459.9 471.6 L460.9 471.4 L461.9 467.7 L462.9 466.8 L463.9 466.3 L464.9 466.9 L465.9 466.0 L466.9 466.2 L467.9 466.0 L468.9 465.1 L469.9 467.0 L470.9 467.6 L471.9 467.1 L472.9 468.9 L473.9 470.1 L474.9 471.8 L475.9 472.6 L476.9 473.0 L477.9 470.6 L478.9 470.3 L479.9 468.5 L480.9 465.3 L481.9 465.0 L482.9 463.1 L483.9 462.6 L484.9 461.9 L485.9 458.0 L486.9 457.5 L487.9 458.6 L488.9 455.2 L489.9 456.0 L490.9 453.4 L491.9 454.2 L492.9 453.7 L493.9 453.3 L494.9 453.8 L495.9 455.9 L496.9 455.5 L497.9 456.3 L498.9 452.0 L499.9 449.9 L500.9 449.8 L501.9 449.6 L502.9 448.1 L503.9 447.2 L504.9 446.7 L505.9 445.1 L506.9 444.4 L507.9 440.9 L508.9 437.0 L509.9 436.1 L510.9 432.2 L511.9 430.1 L512.9 429.3 L513.9 427.1 L514.9 427.3 L515.9 427.4 L516.9 423.9 L517.9 422.2 L518.9 422.2 L519.9 420.9 L520.9 424.1 L521.9 424.4 L522.9 429.0 L523.9 428.8 L524.9 432.2 L525.9 435.0 L526.9 435.6 L527.9 436.3 L528.9 436.5 L529.9 437.9 L530.9 438.1 L531.9 439.3 L532.9 436.5 L533.9 435.6 L534.9 434.8 L535.9 433.8 L536.9 430.8 L537.9 427.5 L538.9 423.7 L539.9 420.7 L540.9 418.2 L541.9 416.0 L542.9 414.4 L543.9 411.1 L544.9 413.1 L545.9 414.7 L546.9 416.8 L547.9 420.6 L548.9 421.5 L549.9 424.0 L550.9 425.1 L551.9 424.2 L552.9 423.5 L553.9 424.2 L554.9 425.5 L555.9 424.2 L556.9 428.1 L557.9 428.5 L558.9 430.5 L559.9 430.2 L560.9 430.2 L561.9 431.9 L562.9 430.4 L563.9 430.3 L564.9 429.5 L565.9 430.3 L566.9 427.6 L567.9 424.7 L568.9 429.2 L569.9 431.7 L570.9 434.9 L571.9 436.8 L572.9 438.7 L573.9 439.6 L574.9 441.4 L575.9 442.9 L576.9 444.7 L577.9 443.8 L578.9 440.7 L579.9 439.1 L580.9 438.1 L581.9 431.3 L582.9 428.3 L583.9 420.4 L584.9 415.3 L585.9 408.2 L586.9 403.2 L587.9 398.8 L588.9 394.4 L589.9 391.8 L590.9 387.7 L591.9 384.8 L592.9 379.9 L593.9 377.9 L594.9 377.3 L595.9 375.6 L596.9 373.6 L597.9 374.8 L598.9 373.6 L599.9 375.0 L600.9 374.7 L601.9 377.2 L602.9 379.1 L603.9 381.4 L604.9 385.1 L605.9 385.4 L606.9 389.3 L607.9 391.9 L608.9 393.2 L609.9 395.4 L610.9 397.5 L611.9 400.4 L612.9 403.3 L613.9 407.6 L614.9 410.9 L615.9 416.5 L616.9 416.9 L617.9 419.2 L618.9 422.7 L619.9 426.6 L620.9 429.8 L621.9 435.3 L622.9 442.0 L623.9 445.3 L624.9 450.8 L625.9 453.4 L626.9 456.1 L627.9 462.6 L628.9 465.3 L629.9 466.6 L630.9 471.5 L631.9 466.4 L632.9 468.9 L633.9 476.2 L634.9 477.0 L635.9 483.4 L636.9 481.7 L637.9 477.3 L638.9 478.8 L639.9 473.7 L640.9 469.5 L641.9 468.1 L642.9 474.9 L643.9 468.7 L644.9 471.0 L645.9 471.3 L646.9 473.5 L647.9 476.3 L648.9 469.5 L649.9 475.3 L650.9 477.5 L651.9 482.2 L652.9 479.7 L653.9 481.4 L654.9 486.2 L655.9 485.7 L656.9 490.3 L657.9 494.0 L658.9 495.9 L659.9 493.2 L660.9 493.1 L661.9 502.1 L662.9 504.7 L663.9 512.7 L664.9 509.8 L665.9 520.6 L666.9 524.1 L667.9 532.1 L668.9 533.8 L669.9 530.5 L670.9 528.0 L671.9 530.0 L672.9 532.0 L673.9 535.1 L674.9 541.8 L675.9 538.0 L676.9 545.3 L677.9 547.4 L678.9 545.0 L679.9 546.1 L680.9 546.9 L681.9 547.5 L682.9 542.4 L683.9 544.6 L684.9 545.8 L685.9 536.6 L686.9 536.5 L687.9 536.7 L688.9 540.1 L689.9 545.6 L690.9 548.0 L691.9 550.6 L692.9 552.5 L693.9 555.9 L694.9 555.7 L695.9 553.5 L696.9 545.8 L697.9 542.9 L698.9 543.2 L699.9 544.5 L700.9 544.3 L701.9 549.6 L702.9 550.4 L703.9 550.5 L704.9 548.6 L705.9 550.1 L706.9 554.7 L707.9 551.2 L708.9 555.4 L709.9 557.5 L710.9 565.9 L711.9 567.4 L712.9 571.8 L713.9 568.9 L714.9 571.5 L715.9 570.2 L716.9 573.2 L717.9 576.4 L718.9 572.8 L719.9 574.1 L720.9 580.0 L721.9 583.6 L722.9 585.2 L723.9 589.8 L724.9 595.5 L725.9 599.1 L726.9 604.4 L727.9 599.6 L728.9 597.8 L729.9 597.7 L730.9 597.5 L731.9 594.8 L732.9 591.3 L733.9 593.2 L734.9 595.7 L735.9 601.6 L736.9 603.6 L737.9 608.6 L738.9 605.4 L739.9 608.8 L740.9 601.7 L741.9 598.8 L742.9 601.2 L743.9 603.0 L744.9 605.2 L745.9 606.5 L746.9 610.2 L747.9 609.6 L748.9 609.6 L749.9 610.0 L750.9 609.6 L751.9 611.7 L752.9 609.4 L753.9 609.1 L754.9 610.7 L755.9 612.4 L756.9 608.7 L757.9 607.2 L758.9 607.8 L759.9 605.9 L760.9 604.2 L761.9 598.7 L762.9 598.4 L763.9 592.3 L764.9 589.4 L765.9 596.6 L766.9 595.2 L767.9 593.9 L768.9 594.8 L769.9 595.9 L770.9 593.2 L771.9 588.0 L772.9 592.3 L773.9 592.2 L774.9 590.8 L775.9 588.1 L776.9 589.8 L777.9 590.0 L778.9 595.2 L779.9 596.5 L780.9 597.6 L781.9 599.9 L782.9 601.8 L783.9 604.0 L784.9 604.8 L785.9 605.9 L786.9 597.0 L787.9 598.8 L788.9 592.8 L789.9 588.4 L790.9 585.0 L791.9 588.1 L792.9 582.6 L793.9 587.4 L794.9 580.8 L795.9 583.5 L796.9 581.0 L797.9 587.0 L798.9 581.8 L799.9 585.9 L800.9 585.0 L801.9 587.2 L802.9 587.9 L803.9 588.4 L804.9 587.2 L805.9 588.6 L806.9 587.5 L807.9 586.0 L808.9 584.4 L809.9 583.0 L810.9 578.4 L811.9 578.0 L812.9 577.2 L813.9 574.7 L814.9 573.3 L815.9 569.5 L816.9 568.9 L817.9 566.3 L818.9 566.1 L819.9 564.2 L820.9 564.1 L821.9 562.9 L822.9 561.7 L823.9 560.0 L824.9 559.1 L825.9 558.1 L826.9 557.3 L827.9 556.4 L828.9 555.9 L829.9 554.1 L830.9 554.4 L831.9 552.8 L832.9 551.7 L833.9 550.7 L834.9 550.8 L835.9 550.9 L836.9 549.9 L837.9 549.2 L838.9 548.0 L839.9 546.9 L840.9 546.7 L841.9 545.0 L842.9 546.5 L843.9 547.1 L844.9 546.8 L845.9 544.6 L846.9 545.8 L847.9 544.9 L848.9 544.2 L849.9 543.0 L850.9 542.5 L851.9 543.2 L852.9 540.1 L853.9 539.1 L854.9 537.4 L855.9 535.1 L856.9 534.5 L857.9 532.6 L858.9 532.0 L859.9 530.3 L860.9 528.1 L861.9 527.3 L862.9 525.1 L863.9 524.4 L864.9 520.7 L865.9 519.8 L866.9 518.1 L867.9 517.5 L868.9 515.3 L869.9 515.4 L870.9 513.3 L871.9 512.0 L872.9 510.8 L873.9 507.9 L874.9 506.5 L875.9 507.2 L876.9 505.7 L877.9 501.3 L878.9 500.5 L879.9 500.4 L880.9 501.2 L881.9 497.8 L882.9 497.2 L883.9 495.9 L884.9 496.3 L885.9 495.8 L886.9 494.6 L887.9 493.0 L888.9 492.9 L889.9 492.3 L890.9 490.2 L891.9 488.9 L892.9 489.1 L893.9 487.7 L894.9 489.1 L895.9 487.0 L896.9 488.0 L897.9 484.7 L898.9 484.7 L899.9 484.0 L900.9 482.7 L901.9 480.5 L902.9 478.6 L903.9 477.3 L904.9 474.9 L905.9 473.3 L906.9 470.5 L907.9 468.0 L908.9 466.9 L909.9 466.3 L910.9 465.8 L911.9 463.8 L912.9 462.3 L913.9 462.6 L914.9 461.5 L915.9 460.3 L916.9 460.4 L917.9 458.6 L918.9 456.8 L919.9 456.1 L920.9 454.0 L921.9 452.8 L922.9 451.1 L923.9 449.2 L924.9 448.4 L925.9 446.3 L926.9 443.9 L927.9 443.3 L928.9 440.6 L929.9 438.8 L930.9 437.0 L931.9 436.2 L932.9 434.4 L933.9 432.2 L934.9 432.4 L935.9 431.1 L936.9 429.4 L937.9 426.3 L938.9 424.0 L939.9 426.2 L940.9 424.8 L941.9 424.3 L942.9 422.4 L943.9 422.6 L944.9 419.4 L945.9 421.4 L946.9 421.7 L947.9 420.9 L948.9 422.1 L949.9 424.0 L950.9 422.3 L951.9 425.0 L952.9 424.2 L953.9 423.4 L954.9 424.4 L955.9 425.9 L956.9 425.5 L957.9 425.5 L958.9 425.7 L959.9 425.7 L960.9 423.7 L961.9 426.0 L962.9 425.9 L963.9 426.1 L964.9 429.2 L965.9 429.0 L966.9 429.5 L967.9 429.6 L968.9 431.1 L969.9 429.4 L970.9 429.9 L971.9 429.5 L972.9 430.3 L973.9 429.9 L974.9 429.7 L975.9 428.7 L976.9 427.9 L977.9 428.7 L978.9 428.8 L979.9 428.9 L980.9 429.6 L981.9 426.6 L982.9 426.3 L983.9 425.3 L984.9 425.3 L985.9 424.4 L986.9 424.3 L987.9 421.4 L988.9 421.5 L989.9 420.8 L990.9 419.9 L991.9 419.3 L992.9 419.2 L993.9 418.2 L994.9 418.5 L995.9 418.2 L996.9 417.6 L997.9 417.6 L998.9 416.0 L999.9 415.8 L1000.9 414.3 L1001.9 413.3 L1002.9 413.6 L1003.9 413.2 L1004.9 410.6 L1005.9 410.0 L1006.9 410.1 L1007.9 408.9 L1008.9 409.4 L1009.9 407.5 L1010.9 406.7 L1011.9 404.8 L1012.9 406.6 L1013.9 403.5 L1014.9 403.9 L1015.9 403.1 L1016.9 400.2 L1017.9 400.6 L1018.9 401.4 L1019.9 399.8 L1020.9 399.1 L1021.9 399.1 L1022.9 397.7 L1023.9 399.1 L1024.9 395.6 L1025.9 395.7 L1026.9 397.1 L1027.9 395.6 L1028.9 395.3 L1029.9 394.5 L1030.9 394.8 L1031.9 392.4 L1032.9 393.6 L1033.9 393.3 L1034.9 393.1 L1035.9 390.3 L1036.9 390.8 L1037.9 391.0 L1038.9 388.9 L1039.9 388.2 L1040.9 387.8 L1041.9 387.2 L1042.9 385.8 L1043.9 386.2 L1044.9 384.7 L1045.9 384.1 L1046.9 383.2 L1047.9 382.5 L1048.9 380.3 L1049.9 380.0 L1050.9 377.2 L1051.9 380.6 L1052.9 381.5 L1053.9 384.6 L1054.9 386.0 L1055.9 386.7 L1056.9 388.2 L1057.9 389.8 L1058.9 388.6 L1059.9 388.0 L1060.9 390.1 L1061.9 391.2 L1062.9 391.5 L1063.9 392.3 L1064.9 392.7 L1065.9 392.0 L1066.9 393.6 L1067.9 394.8 L1068.9 396.3 L1069.9 394.7 L1070.9 398.0 L1071.9 398.1 L1072.9 399.9 L1073.9 398.7 L1074.9 399.2 L1075.9 400.6 L1076.9 401.7 L1077.9 403.3 L1078.9 405.8 L1079.9 406.3 L1080.9 406.3 L1081.9 406.9 L1082.9 407.4 L1083.9 408.3 L1084.9 410.4 L1085.9 410.6 L1086.9 412.0 L1087.9 412.2 L1088.9 414.1 L1089.9 415.4 L1090.9 416.2 L1091.9 417.3 L1092.9 417.5 L1093.9 418.5 L1094.9 420.4 L1095.9 419.8 L1096.9 421.8 L1097.9 422.2 L1098.9 421.9 L1099.9 423.4 L1100.9 424.5 L1101.9 424.5 L1102.9 426.0 L1103.9 426.9 L1104.9 428.7 L1105.9 428.1 L1106.9 429.4 L1107.9 429.4 L1108.9 430.9 L1109.9 431.9 L1110.9 432.9 L1111.9 434.3 L1112.9 433.8 L1113.9 435.2 L1114.9 435.6 L1115.9 436.6 L1116.9 438.1 L1117.9 439.7 L1118.9 439.0 L1119.9 439.5 L1120.9 441.1 L1121.9 441.7 L1122.9 441.0 L1123.9 441.7 L1124.9 441.6 L1125.9 443.0 L1126.9 443.6 L1127.9 445.8 L1128.9 445.7 L1129.9 448.0 L1130.9 450.2 L1131.9 452.0 L1132.9 453.6 L1133.9 454.7 L1134.9 455.6 L1135.9 458.8 L1136.9 463.5 L1137.9 464.6 L1138.9 467.1 L1139.9 471.1 L1140.9 472.1 L1141.9 471.5 L1142.9 472.5 L1143.9 473.4 L1144.9 474.9 L1145.9 476.9 L1146.9 482.6 L1147.9 486.6 L1148.9 490.8 L1149.9 490.8 L1150.9 489.0 L1151.9 487.8 L1152.9 488.1 L1153.9 485.1 L1154.9 488.2 L1155.9 487.5 L1156.9 490.2 L1157.9 492.3 L1158.9 492.6 L1159.9 494.9 L1160.9 493.4 L1161.9 498.3 L1162.9 505.6 L1163.9 507.8 L1164.9 509.5 L1165.9 503.7 L1166.9 508.6 L1167.9 512.4 L1168.9 513.4 L1169.9 517.1 L1170.9 513.9 L1171.9 512.0 L1172.9 513.0 L1173.9 508.8 L1174.9 513.8 L1175.9 513.6 L1176.9 511.9 L1177.9 508.1 L1178.9 510.5 L1179.9 513.9 L1180.9 517.2 L1181.9 520.6 L1182.9 519.8 L1183.9 522.7 L1184.9 521.3 L1185.9 524.0 L1186.9 521.6 L1187.9 523.0 L1188.9 515.9 L1189.9 518.7 L1190.9 517.5 L1191.9 521.8 L1192.9 521.2 L1193.9 523.7 L1194.9 522.8 L1195.9 524.2 L1196.9 524.3 L1197.9 532.1 L1198.9 535.6 L1199.9 532.4 L1200.9 539.5 L1201.9 539.6 L1202.9 541.6 L1203.9 537.3 L1204.9 533.0 L1205.9 533.2 L1206.9 531.8 L1207.9 528.9 L1208.9 530.2 L1209.9 532.0 L1210.9 534.7 L1211.9 533.0 L1212.9 534.2 L1213.9 541.8 L1214.9 546.2 L1215.9 551.1 L1216.9 554.5 L1217.9 553.7 L1218.9 558.3 L1219.9 552.6 L1220.9 554.2 L1221.9 551.9 L1222.9 550.7 L1223.9 550.2 L1224.9 557.3 L1225.9 560.3 L1226.9 558.7 L1227.9 560.3 L1228.9 566.2 L1229.9 566.2 L1230.9 559.5 L1231.9 557.5 L1232.9 551.9 L1233.9 548.7 L1234.9 546.4 L1235.9 546.2 L1236.9 547.0 L1237.9 552.5 L1238.9 552.0 L1239.9 557.6 L1240.9 555.4 L1241.9 555.8 L1242.9 551.8 L1243.9 553.0 L1244.9 554.4 L1245.9 550.7 L1246.9 554.4 L1247.9 546.0 L1248.9 548.2 L1249.9 552.9 L1250.9 558.4 L1251.9 555.2 L1252.9 561.4 L1253.9 563.5 L1254.9 564.7 L1255.9 563.5 L1256.9 561.2 L1257.9 566.5 L1258.9 564.0 L1259.9 563.0 L1260.9 560.4 L1261.9 563.7 L1262.9 563.7 L1263.9 566.3 L1264.9 566.5 L1265.9 569.4 L1266.9 572.1 L1267.9 572.5 L1268.9 572.6 L1269.9 572.2 L1270.9 572.4 L1271.9 571.6 L1272.9 570.6 L1273.9 569.8 L1274.9 575.9 L1275.9 578.2 L1276.9 576.2 L1277.9 570.8 L1278.9 571.7 L1279.9 568.4 L1280.9 567.3 L1281.9 568.8 L1282.9 568.3 L1283.9 569.2 L1284.9 567.2 L1285.9 564.6 L1286.9 565.1 L1287.9 568.0 L1288.9 562.8 L1289.9 563.0 L1290.9 563.3 L1291.9 562.2 L1292.9 565.3 L1293.9 564.3 L1294.9 564.2 L1295.9 564.7 L1296.9 564.6 L1297.9 567.4 L1298.9 565.8 L1299.9 567.2 L1300.9 566.9 L1301.9 566.8 L1302.9 568.3 L1303.9 568.4 L1304.9 567.0 L1305.9 568.8 L1306.9 567.4 L1307.9 568.3 L1308.9 568.7 L1309.9 567.4 L1310.9 564.8 L1311.9 565.1 L1312.9 565.0 L1313.9 563.0 L1314.9 562.3 L1315.9 560.6 L1316.9 558.2 L1317.9 555.8 L1318.9 555.1 L1319.9 551.8 L1320.9 550.6 L1321.9 550.1 L1322.9 549.5 L1323.9 548.7 L1324.9 549.1 L1325.9 548.3 L1326.9 548.8 L1327.9 548.9 L1328.9 549.7 L1329.9 547.8 L1330.9 548.4 L1331.9 549.5 L1332.9 549.3 L1333.9 550.6 L1334.9 550.7 L1335.9 551.9 L1336.9 552.5 L1337.9 551.3 L1338.9 552.5 L1339.9 552.5 L1340.9 549.4 L1341.9 549.0 L1342.9 549.1 L1343.9 544.3 L1344.9 544.7 L1345.9 543.4 L1346.9 542.6 L1347.9 540.4 L1348.9 539.2 L1349.9 538.8 L1350.9 537.0 L1351.9 536.6 L1352.9 536.6 L1353.9 536.8 L1354.9 534.6 L1355.9 533.5 L1356.9 532.1 L1357.9 533.2 L1358.9 530.8 L1359.9 530.4 L1360.9 528.2 L1361.9 529.0 L1362.9 529.1 L1363.9 526.5 L1364.9 524.0 L1365.9 524.4 L1366.9 523.6 L1367.9 520.9 L1368.9 522.6 L1369.9 521.2 L1370.9 518.6 L1371.9 518.1 L1372.9 516.2 L1373.9 514.7 L1374.9 514.1 L1375.9 514.8 L1376.9 515.9 L1377.9 516.2 L1378.9 518.0 L1379.9 516.9 L1380.9 517.6 L1381.9 518.6 L1382.9 518.8 L1383.9 520.9 L1384.9 522.3 L1385.9 521.4 L1386.9 523.5 L1387.9 526.7 L1388.9 527.3 L1389.9 525.8 L1390.9 525.9 L1391.9 524.5 L1392.9 524.9 L1393.9 524.3 L1394.9 522.9 L1395.9 523.8 L1396.9 523.9 L1397.9 521.1 L1398.9 522.4 L1399.9 521.9 L1400.9 519.5 L1401.9 518.0 L1402.9 519.2 L1403.9 516.3 L1404.9 515.5 L1405.9 516.6 L1406.9 515.2 L1407.9 513.8 L1408.9 513.1 L1409.9 512.7 L1410.9 510.5 L1411.9 510.7 L1412.9 508.8 L1413.9 507.7 L1414.9 506.5 L1415.9 505.1 L1416.9 505.1 L1417.9 502.4 L1418.9 503.4 L1419.9 499.8 L1420.9 501.8 L1421.9 501.4 L1422.9 500.9 L1423.9 500.7 L1424.9 501.5 L1425.9 499.6 L1426.9 500.0 L1427.9 498.8 L1428.9 498.4 L1429.9 496.1 L1430.9 496.0 L1431.9 494.5 L1432.9 493.7 L1433.9 493.1 L1434.9 492.9 L1435.9 492.2 L1436.9 490.4 L1437.9 491.6 L1438.9 490.0 L1439.9 488.6 L1440.9 487.5 L1441.9 486.7 L1442.9 487.5 L1443.9 486.1 L1444.9 484.7 L1445.9 485.3 L1446.9 482.9 L1447.9 483.9 L1448.9 483.0 L1449.9 482.3 L1450.9 481.2 L1451.9 479.5 L1452.9 479.1 L1453.9 477.0 L1454.9 475.0 L1455.9 473.9 L1456.9 471.7 L1457.9 470.6 L1458.9 468.1 L1459.9 467.2 L1460.9 466.1 L1461.9 464.3 L1462.9 463.5 L1463.9 459.8 L1464.9 459.8 L1465.9 459.4 L1466.9 459.8 L1467.9 458.2 L1468.9 458.3 L1469.9 457.7 L1470.9 459.4 L1471.9 455.1 L1472.9 455.6 L1473.9 453.2 L1474.9 451.8 L1475.9 451.2 L1476.9 451.1 L1477.9 448.1 L1478.9 446.5 L1479.9 446.6 L1480.9 447.7 L1481.9 446.2 L1482.9 444.1 L1483.9 443.1 L1484.9 441.7 L1485.9 440.9 L1486.9 440.7 L1487.9 439.8 L1488.9 439.4 L1489.9 437.3 L1490.9 437.3 L1491.9 434.8 L1492.9 432.8 L1493.9 434.3 L1494.9 434.3 L1495.9 433.6 L1496.9 433.1" fill="none" stroke="#cf541b" stroke-width="2.5" stroke-linejoin="round"/>
  <line x1="44.2" y1="187.7" x2="119" y2="85.2" stroke="#ff0000" stroke-width="7.6"/>
  <polygon points="145.8,48.5 101,72 136.5,98" fill="#ff0000"/>
</svg>

<div class="abs" style="left:151.8px;top:12.5px;font-family:'Liberation Sans',sans-serif;font-size:28px;line-height:34px;color:#000;">1</div>
<div class="abs" style="left:167.7px;top:-3px;font-size:22px;line-height:28px;color:#8c8c8c;">x</div>
<div class="abs" style="left:964.5px;top:13px;font-size:27px;line-height:34px;color:#fff;">2</div>

<div class="ylab yt" style="top:9px;">38</div>
<div class="ylab yt" style="top:79px;">29</div>
<div class="ylab yt" style="top:152px;">19</div>
<div class="ylab yt" style="top:224.5px;">10</div>
<div class="ylab yt" style="top:294px;">0</div>
<div class="ylab yb" style="top:359px;">81</div>
<div class="ylab yb" style="top:429px;">66</div>
<div class="ylab yb" style="top:502px;">50</div>
<div class="ylab yb" style="top:574px;">35</div>
<div class="ylab yb" style="top:644px;">20</div>

<div class="leg" style="left:1025px;top:12px;"><span style="color:#3f54a0">Compressor Power</span><span style="color:#8b969e">,</span> <span style="color:#9c238c">Optimizer</span></div>
<div class="leg" style="left:1204.3px;top:361.5px;color:#cf541b;letter-spacing:-0.42px;">Relative Humidity</div>

<div class="tip" style="left:154.5px;top:249px;width:167.5px;background:#3f54a0;">0.0029 <span class="sq" style="transform:scaleX(.95);margin-left:-1px">kW</span></div>
<div class="tip" style="left:154.5px;top:299.3px;width:30px;background:#9c238c;">0</div>
<div class="tip" style="left:154.5px;top:479.3px;width:145.3px;line-height:49.4px;background:#cf541b;">50.526 <span class="sq" style="transform:scaleX(.8);margin-left:-1px">%</span></div>
<div class="tip" style="left:966.8px;top:249px;width:167.8px;background:#3f54a0;">0.0029 <span class="sq" style="transform:scaleX(.95);margin-left:-1px">kW</span></div>
<div class="tip" style="left:967px;top:299.3px;width:30px;background:#9c238c;">0</div>
<div class="tip" style="left:966.8px;top:386.8px;width:145.2px;height:47px;line-height:50px;background:#cf541b;">70.178 <span class="sq" style="transform:scaleX(.8);margin-left:-1px">%</span></div>

<div class="ttip" style="left:144.3px;top:654px;width:345.5px;color:#007a5e;letter-spacing:0.38px;">8/31/2020 3:18:11 PM</div>
<div class="ttip" style="left:792px;top:654px;width:330.5px;color:#9b9b9b;letter-spacing:0.52px;padding-left:2.2px;">9/2/2020 7:34:42 AM</div>

<div class="xl" style="left:79px;">12:00 pm</div>
<div class="xl" style="left:318.8px;">Sep 1</div>
<div class="xl" style="left:563px;">12:00 pm</div>
<div class="xl" style="left:804.8px;">Sep 2</div>
<div class="xl" style="left:1046.8px;">12:00 pm</div>
<div class="xl" style="left:1288.8px;">Sep 3</div>

<svg width="1505" height="784" viewBox="0 0 1505 784" style="pointer-events:none">
  <path fill="#00795d" d="M26.5 748.2 Q26.5 747 27.7 747 H31.7 Q32.9 747 32.9 748.2 V766.1 H42.1 L29.5 781.2 L16.9 766.1 H26.5 Z"/>
  <g fill="#00795d" stroke="#00795d" stroke-linejoin="round" stroke-width="3">
    <path d="M473.6 764.1 L488.7 749 V779.2 Z"/>
    <path d="M490.7 764.1 L505.75 749 V779.2 Z"/>
    <path d="M547.1 764.1 L562.3 749 V779.2 Z"/>
    <path d="M731.1 764.1 L716 749 V779.2 Z"/>
    <path d="M787.5 764.1 L772.3 749 V779.2 Z"/>
    <path d="M804.5 764.1 L789.5 749 V779.2 Z"/>
    <path d="M859.6 764.1 L843.8 748 V780.4 Z"/>
  </g>
  <rect x="859.1" y="746.5" width="5.9" height="35.4" rx="1.4" fill="#00795d"/>
  <g fill="none" stroke="#00795d" stroke-width="4">
    <path d="M909.2 762.3 A9.4 9.4 0 0 1 926.3 758.6"/>
    <path d="M927.8 765.9 A9.4 9.4 0 0 1 910.7 769.6"/>
  </g>
  <g fill="#00795d">
    <path d="M930.1 753.2 V762.1 H920.9 Z"/>
    <path d="M906.9 775 V766.1 H916.1 Z"/>
  </g>
</svg>

<div class="bt" style="left:62px;">8/31/2020 10:20 AM <u>CDT</u></div>
<div class="bt" style="left:599.5px;">3 days</div>
<div class="bt" style="left:1214.3px;">9/3/2020 10:20 AM <u>CDT</u></div>
</body>
</html>
